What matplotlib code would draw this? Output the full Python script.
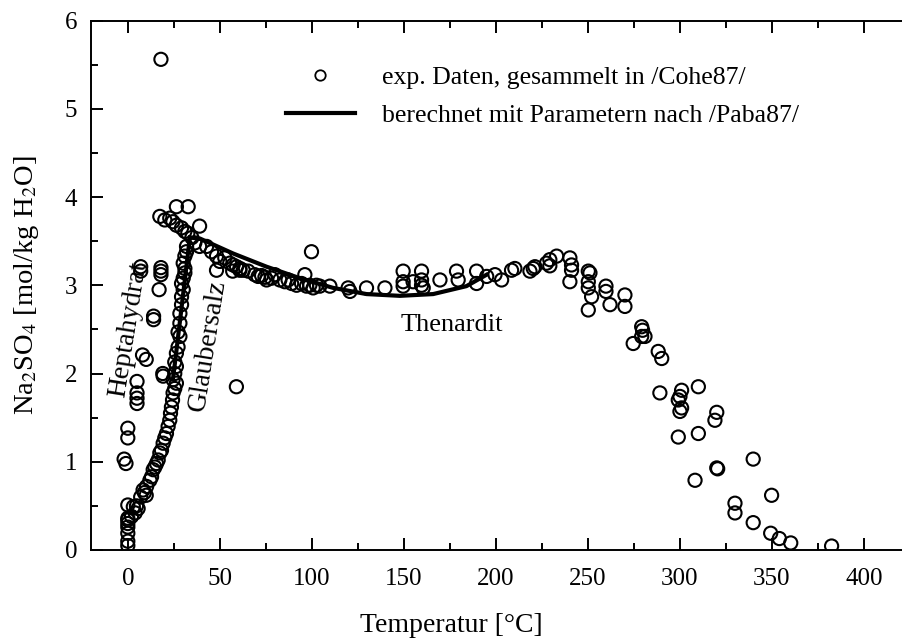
import numpy as np
import matplotlib
matplotlib.use('Agg')
import matplotlib.pyplot as plt
from matplotlib.ticker import MultipleLocator

plt.rcParams['font.family'] = ['Liberation Serif', 'DejaVu Serif']
plt.rcParams['mathtext.fontset'] = 'stix'

# experimental solubility data (T in degC, molality)
temp_exp = [
    # 0 degC column and low heptahydrate points
    0, 0, 0, 0, 0, 0, 0, 0, -2, -1, 0, 0,
    2, 4, 5.6, 3, 4.7, 5, 5, 5, 5, 8, 10, 14, 14, 19, 7, 7, 18, 18, 18, 17,
    # glaubersalz branch
    7, 9, 10, 8.3, 10.2, 12, 12.9, 13.8, 14.7, 15.6, 16.5, 17.4, 18.3, 19.2,
    20.1, 21, 21.9, 22.8, 23.2, 23.7, 24.3, 24.6, 25.5, 26.4,
    24.6, 25.5, 26.4, 25.5, 26.4, 27.3, 28.3, 27.3, 28.3, 28.3, 29.2, 29.2,
    30.1, 29.2, 30.1, 31, 31, 30.1, 31, 31.9, 31.9, 19.2,
    # maximum region
    18, 26.4, 32.8, 17.4, 20.1, 22.8, 24.5, 26.4, 29.2, 31, 32.6, 39,
    34.8, 36.4, 39, 59,
    # thenardite branch
    42.8, 45.5, 48.2, 50, 52.7, 55.4, 57.2, 59.1, 60.9, 62.7, 65.4, 48.2, 57, 60.9,
    69, 70.8, 72.7, 74.5, 75.4, 78.1, 79.9, 82.6, 85.3, 87.1, 89, 91.7, 94.4,
    96.2, 97.1, 98.9, 99.8, 100.7, 102.5, 104.3, 109.8, 119.7, 120.7, 129.7,
    139.7, 149.6, 149.6, 149.6, 155, 159.6, 159.6, 159.6, 160.5, 169.6, 178.6,
    179.5, 189.5, 189.5, 195, 199.5, 203.1, 208.5, 210.3, 218.5, 220.3, 221.2,
    227.5, 229.3, 229.3, 233, 240.2, 241.1, 241.1, 240.2,
    250.2, 251.1, 250.2, 250.2, 252, 250.2, 259.8, 259.8, 262, 270.1, 270.1,
    279.2, 279.7, 279.2, 281, 274.6, 288.2, 290.1, 289.1,
    300.9, 300, 299.1, 300.9, 300, 310, 299.1, 310, 320, 319, 320, 320.5, 308.2,
    339.8, 329.9, 329.9, 349.8, 339.8, 349.3, 354, 360.2, 382.4,
]
sol_exp = [
    0.05, 0.1, 0.19, 0.26, 0.3, 0.34, 0.36, 0.51, 1.03, 0.98, 1.27, 1.38,
    0.38, 0.42, 0.47, 0.49, 0.5, 1.66, 1.72, 1.78, 1.91, 2.21, 2.16, 2.65, 2.61, 2.0, 3.21, 3.16, 3.2, 3.16, 3.12, 2.95,
    0.6, 0.65, 0.62, 0.68, 0.72, 0.79, 0.83, 0.91, 0.94, 0.98, 1.02, 1.1, 1.13, 1.21,
    1.27, 1.32, 1.4, 1.47, 1.55, 1.62, 1.7, 1.78, 1.83, 1.89,
    1.93, 2.0, 2.08, 2.13, 2.23, 2.3, 2.42, 2.47, 2.57, 2.68, 2.78, 2.87,
    2.95, 3.02, 3.08, 3.14, 3.19, 3.25, 3.33, 3.38, 3.44, 1.97,
    5.56, 3.89, 3.89, 3.78, 3.74, 3.76, 3.72, 3.68, 3.65, 3.61, 3.59, 3.67,
    3.54, 3.48, 3.44, 1.85,
    3.44, 3.38, 3.33, 3.27, 3.31, 3.25, 3.23, 3.21, 3.19, 3.17, 3.16, 3.17, 3.16, 3.17,
    3.12, 3.1, 3.11, 3.09, 3.06, 3.08, 3.12, 3.06, 3.04, 3.06, 3.02, 3.0, 3.02,
    3.12, 2.99, 3.0, 3.38, 2.97, 3.0, 2.99, 2.99, 2.97, 2.93, 2.97,
    2.97, 3.16, 3.04, 2.99, 3.04, 3.16, 3.06, 3.0, 2.97, 3.06, 3.16,
    3.06, 3.16, 3.02, 3.1, 3.12, 3.06, 3.17, 3.19, 3.16, 3.19, 3.21,
    3.25, 3.29, 3.22, 3.33, 3.31, 3.23, 3.17, 3.04,
    3.16, 3.14, 3.04, 2.97, 2.87, 2.72, 2.99, 2.93, 2.78, 2.89, 2.76,
    2.53, 2.49, 2.42, 2.42, 2.34, 2.25, 2.17, 1.78,
    1.81, 1.74, 1.7, 1.61, 1.57, 1.85, 1.28, 1.32, 1.56, 1.47, 0.93, 0.92, 0.79,
    1.03, 0.53, 0.42, 0.62, 0.31, 0.19, 0.13, 0.08, 0.045,
]

# calculated curve
temp_glauber = [24.5, 27, 29.5, 32, 33.7]
sol_glauber = [1.93, 2.36, 2.8, 3.24, 3.54]
temp_thenardit = [33.7, 39.1, 57.2, 75.4, 93.5, 111.6, 129.7, 147.8, 165.9, 184, 195]
sol_thenardit = [3.54, 3.53, 3.36, 3.21, 3.08, 2.97, 2.9, 2.88, 2.9, 2.99, 3.12]

fig = plt.figure(figsize=(9.02, 6.41), dpi=100)
ax = fig.add_axes([91 / 902, 91 / 641, 1 - 91 / 902, (550 - 20.5) / 641])

ax.scatter(temp_exp, sol_exp, s=90, facecolors='none', edgecolors='black',
           linewidths=1.5, zorder=3)
ax.plot(temp_glauber, sol_glauber, color='black', lw=3, zorder=2)
ax.plot(temp_thenardit, sol_thenardit, color='black', lw=3, zorder=2)

# legend entries
h1, = ax.plot([], [], 'o', mfc='none', mec='black', ms=7.5, mew=1.3)
h2, = ax.plot([], [], '-', color='black', lw=3)
ax.legend([h1, h2], ['exp. Daten, gesammelt in /Cohe87/',
                     'berechnet mit Parametern nach /Paba87/'],
          frameon=False, fontsize=18.5, loc='upper left',
          bbox_to_anchor=(0.2115, 0.958), handlelength=2.7, handletextpad=1.05,
          labelspacing=0.6)

ax.text(0.5, 2.5, 'Heptahydrat', rotation=81, fontsize=20, ha='center', va='center')
ax.text(43.5, 2.32, 'Glaubersalz', rotation=81, fontsize=20, ha='center', va='center')
ax.text(176, 2.55, 'Thenardit', fontsize=19, ha='center', va='center')

ax.set_xlim(-20, (902 - 128) / 1.84)
ax.set_ylim(0, 6)
ax.xaxis.set_major_locator(MultipleLocator(50))
ax.xaxis.set_minor_locator(MultipleLocator(25))
ax.yaxis.set_major_locator(MultipleLocator(1))
ax.yaxis.set_minor_locator(MultipleLocator(0.5))
ax.tick_params(which='both', direction='in', top=True, right=False, width=1.4,
               labelsize=18)
ax.tick_params(axis='x', which='both', pad=13)
ax.tick_params(axis='y', which='both', pad=10)
ax.tick_params(which='major', length=8.5)
ax.tick_params(which='minor', length=5)
for side in ['left', 'bottom', 'top']:
    ax.spines[side].set_linewidth(1.4)
ax.spines['right'].set_visible(False)

ax.set_xlabel('Temperatur [°C]', fontsize=20)
ax.xaxis.set_label_coords((451 - 91) / 811, -(625 - 550) / 529.5, transform=ax.transAxes)
ax.xaxis.label.set_va('center')
ax.set_ylabel('Na$_2$SO$_4$ [mol/kg H$_2$O]', fontsize=20.5)
ax.yaxis.set_label_coords(-(91 - 27) / 811, (550 - 285) / 529.5, transform=ax.transAxes)
ax.yaxis.label.set_va('center')

fig.savefig('out.png', dpi=100)
